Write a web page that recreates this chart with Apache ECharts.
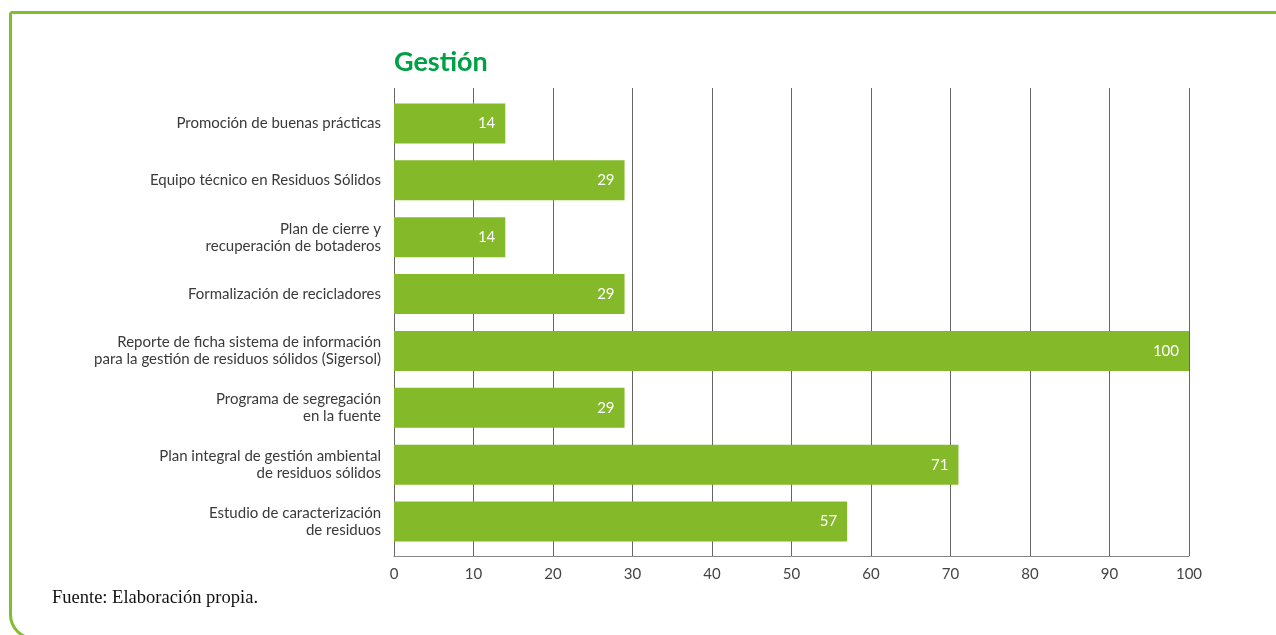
<!DOCTYPE html>
<html><head><meta charset="utf-8">
<script src="https://cdn.jsdelivr.net/npm/echarts@6/dist/echarts.min.js"></script>
<style>html,body{margin:0;padding:0;background:#fff}#c{width:1276px;height:635px}</style>
</head><body><div id="c"></div>
<script>
const categories = [
  "Promoción de buenas prácticas",
  "Equipo técnico en Residuos Sólidos",
  "Plan de cierre y\nrecuperación de botaderos",
  "Formalización de recicladores",
  "Reporte de ficha sistema de información\npara la gestión de residuos sólidos (Sigersol)",
  "Programa de segregación\nen la fuente",
  "Plan integral de gestión ambiental\nde residuos sólidos",
  "Estudio de caracterización\nde residuos"
];
const values = [14, 29, 14, 29, 100, 29, 71, 57];
const xTicks = [0, 10, 20, 30, 40, 50, 60, 70, 80, 90, 100];
const title = "Gestión";
const source = "Fuente: Elaboración propia.";

const font = "Lato, 'Noto Sans', sans-serif";
const chart = echarts.init(document.getElementById('c'), null, {renderer: 'canvas'});
chart.setOption({
  animation: false,
  title: {
    text: title, left: 389, top: 44,
    textStyle: {fontFamily: font, fontWeight: 'bold', fontSize: 27, color: '#00a046'}
  },
  graphic: [
    {type: 'rect', shape: {x: 10.5, y: 12.5, width: 1300, height: 626, r: [0, 0, 0, 24]},
     style: {fill: 'none', stroke: '#84bc2c', lineWidth: 3}, z: 0},
    {type: 'text', left: 52, top: 589,
     style: {text: source, fontFamily: "'Liberation Serif', serif", fontSize: 18.5, fill: '#111'}}
  ],
  grid: [
    {left: 394, right: 87, top: 95, height: 455, containLabel: false},
    {left: 394, right: 87, top: 88, height: 468, containLabel: false}
  ],
  xAxis: [
    {gridIndex: 0, type: 'value', min: 0, max: 100, interval: 10, show: false},
    {gridIndex: 1, type: 'value', min: 0, max: 100, interval: 10,
     axisLine: {show: true, lineStyle: {color: '#888', width: 1}},
     axisTick: {show: false},
     splitLine: {show: true, lineStyle: {color: '#666', width: 1}},
     axisLabel: {color: '#444', fontFamily: font, fontSize: 15, margin: 11,
       formatter: v => xTicks.includes(v) ? String(v) : ''}}
  ],
  yAxis: [
    {gridIndex: 0, type: 'category', data: categories, inverse: true,
     axisLine: {show: false}, axisTick: {show: false},
     axisLabel: {color: '#3a3a3a', fontFamily: font, fontSize: 15, margin: 13,
       align: 'right', lineHeight: 17}},
    {gridIndex: 1, type: 'value', show: false}
  ],
  series: [{
    type: 'bar', xAxisIndex: 0, yAxisIndex: 0, data: values, barWidth: 40,
    itemStyle: {color: '#84b929'},
    label: {show: true, position: 'insideRight', distance: 10, color: '#fff',
      fontFamily: font, fontSize: 15}
  }]
});
</script></body></html>
